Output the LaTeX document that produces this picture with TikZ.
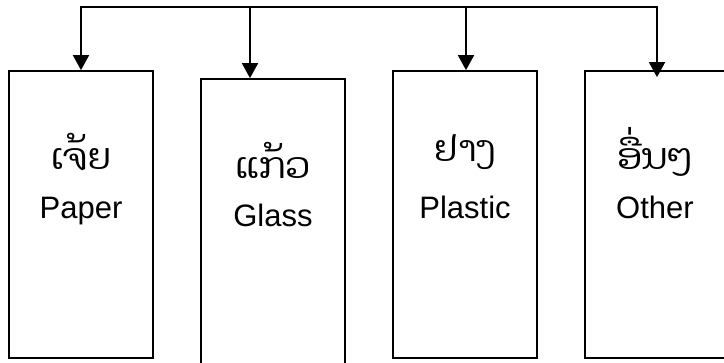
\documentclass[tikz,border=0pt]{standalone}
\usepackage{fontspec}
\setmainfont{Liberation Sans}
\newfontfamily\laofont[Script=Lao]{Dhyana}
\usetikzlibrary{arrows.meta}

\tikzset{
  bin/.style={draw, line width=1.7pt, minimum width=144pt, minimum height=287pt, inner sep=0pt},
  flow/.style={line width=1.7pt, -{Triangle[width=16pt,length=15pt]}},
  laotext/.style={font=\laofont\fontsize{36}{40}\selectfont, inner sep=0pt},
  entext/.style={font=\fontsize{31}{36}\selectfont, inner sep=0pt, anchor=base}
}

\begin{document}
\begin{tikzpicture}[x=1pt,y=-1pt]
    \useasboundingbox (0,0) rectangle (724,363);
    \clip (0,0) rectangle (724,363);

    % the four bins
    \node[bin] (paper) at (81,214.5) {};
    \node[bin] (glass) at (273,222.5) {};
    \node[bin] (plastic) at (465,214.5) {};
    \node[bin] (other) at (657,214.5) {};

    % names
    \node[laotext] (paperlao) at (81,152) {ເຈ້ຍ};
    \node[entext] (paperen) at (81,219) {Paper};
    \node[laotext] (glasslao) at (273,160) {ແກ້ວ};
    \node[entext] (glassen) at (273,227) {Glass};
    \node[laotext] (plasticlao) at (465,152) {ຢາງ};
    \node[entext] (plasticen) at (465,219) {Plastic};
    \node[laotext] (otherlao) at (655,152) {ອື່ນໆ};
    \node[entext] (otheren) at (655,219) {Other};

    % feed line
    \coordinate (b1) at (81,7);
    \coordinate (b2) at (250,7);
    \coordinate (b3) at (466,7);
    \coordinate (b4) at (657,7);
    \draw[line width=1.7pt, line cap=rect] (b1) -- (b4);

    \draw[flow] (b1) -- (paper.north);
    \draw[flow] (b2) -- (b2 |- glass.north);
    \draw[flow] (b3) -- (b3 |- plastic.north);
    \draw[flow] (b4) -- ([yshift=-7pt]other.north);
\end{tikzpicture}
\end{document}
